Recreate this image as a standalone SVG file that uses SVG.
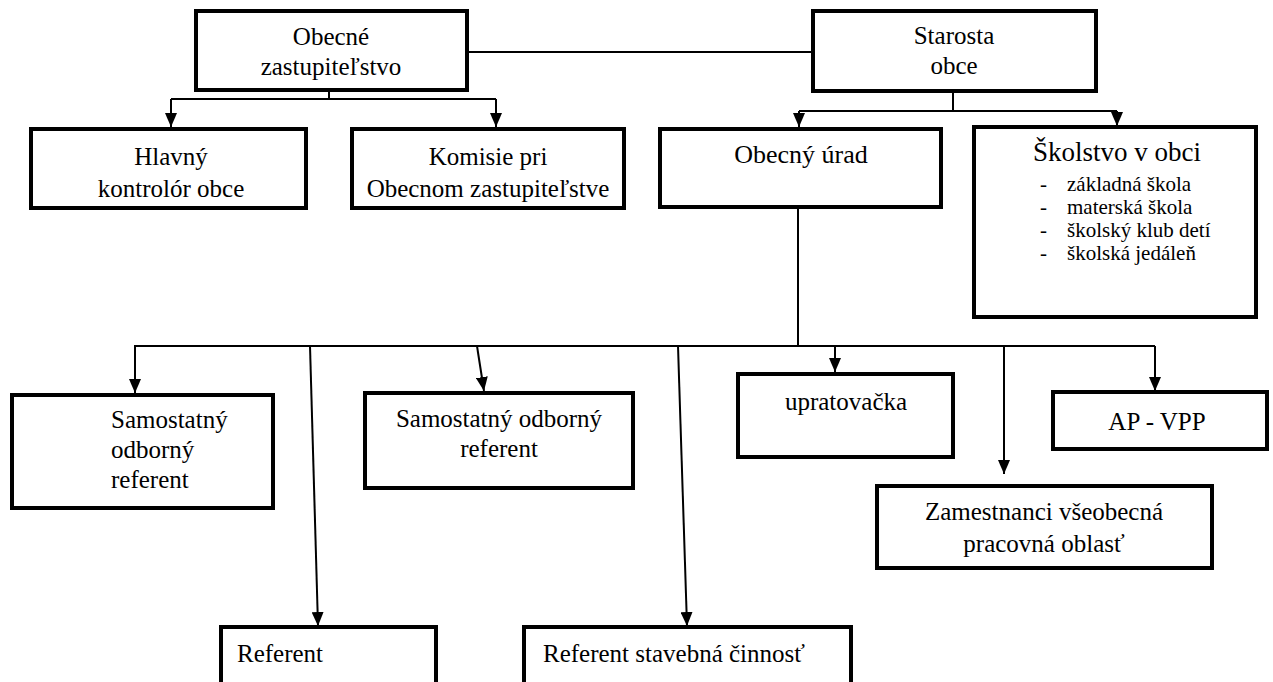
<svg xmlns="http://www.w3.org/2000/svg" width="1273" height="682" viewBox="0 0 1273 682">
<style>
  .box { fill: #fff; stroke: #000; stroke-width: 4; }
  .t { font-family: 'Liberation Serif', 'Times New Roman', 'DejaVu Serif', serif; font-size: 25px; fill: #000; }
  .c { text-anchor: middle; }
  .s { font-size: 21px; }
  .ln { fill: none; stroke: #000; stroke-width: 2; }
</style>
<defs>
  <marker id="ah" viewBox="0 0 14 12" refX="14" refY="6" markerWidth="14" markerHeight="12" markerUnits="userSpaceOnUse" orient="auto">
    <path d="M0,0 L14,6 L0,12 Z" fill="#000"/>
  </marker>
</defs>

<g id="connectors">
  <line class="ln" x1="467" y1="52" x2="813" y2="52"/>
  <polyline class="ln" points="329,90 329,99"/>
  <polyline class="ln" points="171,99 496,99"/>
  <line class="ln" x1="171" y1="99" x2="171" y2="127" marker-end="url(#ah)"/>
  <line class="ln" x1="496" y1="99" x2="496" y2="127" marker-end="url(#ah)"/>
  <polyline class="ln" points="953,91 953,111"/>
  <polyline class="ln" points="799,111 1117,111"/>
  <line class="ln" x1="799" y1="111" x2="799" y2="127" marker-end="url(#ah)"/>
  <line class="ln" x1="1117" y1="111" x2="1117" y2="126" marker-end="url(#ah)"/>
  <polyline class="ln" points="798,207 798,346"/>
  <polyline class="ln" points="134,346 1155,346"/>
  <line class="ln" x1="135" y1="346" x2="135" y2="393" marker-end="url(#ah)"/>
  <line class="ln" x1="310" y1="346" x2="318" y2="626" marker-end="url(#ah)"/>
  <line class="ln" x1="477" y1="346" x2="484" y2="391" marker-end="url(#ah)"/>
  <line class="ln" x1="678" y1="346" x2="687" y2="626" marker-end="url(#ah)"/>
  <line class="ln" x1="835" y1="346" x2="835" y2="372" marker-end="url(#ah)"/>
  <line class="ln" x1="1004" y1="346" x2="1004" y2="474" marker-end="url(#ah)"/>
  <line class="ln" x1="1155" y1="346" x2="1155" y2="391" marker-end="url(#ah)"/>
</g>

<g font-family="Liberation Serif, Times New Roman, serif">
<g id="obecne-zastupitelstvo">
  <rect class="box" x="196" y="11" width="271" height="79"/>
  <text class="t c" x="331" y="45">Obecné</text>
  <text class="t c" x="331" y="75">zastupiteľstvo</text>
</g>

<g id="starosta">
  <rect class="box" x="813" y="11" width="283" height="80"/>
  <text class="t c" x="954" y="44">Starosta</text>
  <text class="t c" x="954" y="74">obce</text>
</g>

<g id="hlavny-kontrolor">
  <rect class="box" x="31" y="129" width="275" height="79"/>
  <text class="t c" x="171" y="165">Hlavný</text>
  <text class="t c" x="171" y="197">kontrolór obce</text>
</g>

<g id="komisie">
  <rect class="box" x="352" y="129" width="272" height="79"/>
  <text class="t c" x="488" y="165">Komisie pri</text>
  <text class="t c" x="488" y="197">Obecnom zastupiteľstve</text>
</g>

<g id="obecny-urad">
  <rect class="box" x="660" y="129" width="281" height="78"/>
  <text class="t c" x="801" y="163" style="font-size:26px">Obecný úrad</text>
</g>

<g id="skolstvo">
  <rect class="box" x="974" y="127" width="282" height="190"/>
  <text class="t" x="1033" y="161" style="font-size:27px">Školstvo v obci</text>
  <text class="t s" x="1040" y="191">-</text>
  <text class="t s" x="1067" y="191">základná škola</text>
  <text class="t s" x="1040" y="214">-</text>
  <text class="t s" x="1067" y="214">materská škola</text>
  <text class="t s" x="1040" y="237">-</text>
  <text class="t s" x="1067" y="237">školský klub detí</text>
  <text class="t s" x="1040" y="260">-</text>
  <text class="t s" x="1067" y="260">školská jedáleň</text>
</g>

<g id="samostatny-1">
  <rect class="box" x="12" y="395" width="261" height="113"/>
  <text class="t" x="111" y="428">Samostatný</text>
  <text class="t" x="111" y="458">odborný</text>
  <text class="t" x="111" y="488">referent</text>
</g>

<g id="samostatny-2">
  <rect class="box" x="365" y="393" width="268" height="95"/>
  <text class="t c" x="499" y="427">Samostatný odborný</text>
  <text class="t c" x="499" y="457">referent</text>
</g>

<g id="upratovacka">
  <rect class="box" x="738" y="374" width="215" height="83"/>
  <text class="t c" x="846" y="410">upratovačka</text>
</g>

<g id="ap-vpp">
  <rect class="box" x="1053" y="392" width="214" height="57"/>
  <text class="t c" x="1157" y="430">AP - VPP</text>
</g>

<g id="zamestnanci">
  <rect class="box" x="877" y="486" width="335" height="82"/>
  <text class="t c" x="1044" y="520">Zamestnanci všeobecná</text>
  <text class="t c" x="1044" y="552">pracovná oblasť</text>
</g>

<g id="referent">
  <rect class="box" x="221" y="627" width="215" height="60"/>
  <text class="t" x="237" y="662">Referent</text>
</g>

<g id="referent-stavebna">
  <rect class="box" x="524" y="627" width="327" height="60"/>
  <text class="t" x="543" y="662">Referent stavebná činnosť</text>
</g>
</g>
</svg>
